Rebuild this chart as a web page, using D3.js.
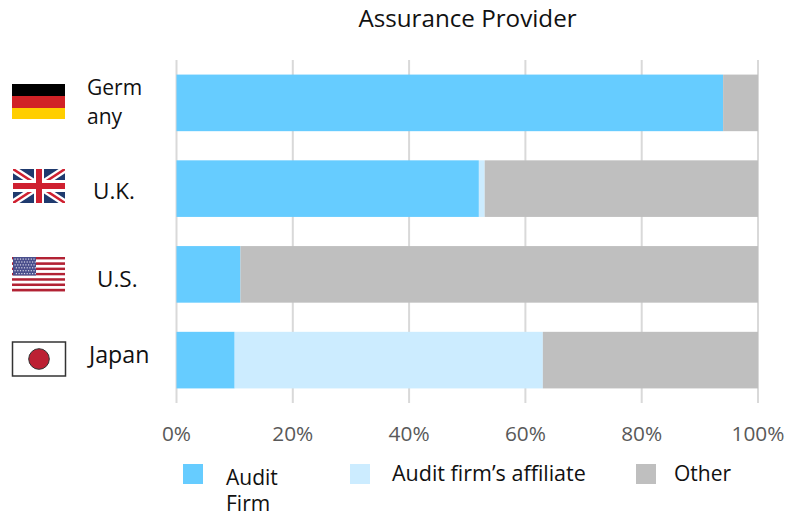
<!DOCTYPE html>
<html><head><meta charset="utf-8">
<script src="https://cdnjs.cloudflare.com/ajax/libs/d3/7.8.5/d3.min.js"></script>
<style>html,body{margin:0;padding:0;background:#fff}svg{display:block}text{font-family:"Open Sans",Lato,sans-serif}</style>
</head><body><svg id="c" width="787" height="516"></svg>
<script>
const categories=["Germany","U.K.","U.S.","Japan"];
const seriesNames=["Audit Firm","Audit firm’s affiliate","Other"];
const auditFirm=[94,52,11,10];
const affiliate=[0,1,0,53];
const other=[6,47,89,37];
const tickValues=[0,20,40,60,80,100];
const colors=["#66CCFF","#CCECFF","#BFBFBF"];
const svg=d3.select("#c");
const x=d3.scaleLinear().domain([0,100]).range([176.5,758]);
const y=d3.scaleBand().domain(categories).range([60,403]).paddingInner(0.34).paddingOuter(0.17);
svg.append("g").selectAll("line").data(tickValues).join("line")
 .attr("x1",d=>x(d)).attr("x2",d=>x(d)).attr("y1",60).attr("y2",403)
 .attr("stroke","#D9D9D9").attr("stroke-width",2);
const rows=categories.map((c,i)=>({c,a:auditFirm[i],b:affiliate[i],o:other[i]}));
const stack=d3.stack().keys(["a","b","o"])(rows);
svg.append("g").selectAll("g").data(stack).join("g").attr("fill",(d,i)=>colors[i])
 .selectAll("rect").data(d=>d).join("rect")
 .attr("x",d=>x(d[0])).attr("width",d=>x(d[1])-x(d[0]))
 .attr("y",d=>y(d.data.c)).attr("height",y.bandwidth());
svg.append("g").selectAll("text").data(tickValues).join("text")
 .attr("x",d=>x(d)).attr("y",441).attr("text-anchor","middle")
 .attr("font-size",20.8).attr("fill","#595959").text(d=>d+"%");
svg.append("text").attr("x",467.5).attr("y",27).attr("text-anchor","middle").attr("font-size",24.2).attr("fill","#111").text("Assurance Provider");
const lab=(t,xx,yy,fs)=>svg.append("text").attr("x",xx).attr("y",yy).attr("font-size",fs).attr("fill","#111").text(t);
lab("Germ",87,95,21);lab("any",87,124,21);
lab(categories[1],93,199,22.5);lab(categories[2],97,287,22.5);lab(categories[3],89,363,23.2);
const de=svg.append("g");
["#000000","#D12226","#FFCE00"].forEach((c,i)=>de.append("rect").attr("x",12).attr("y",84+i*12).attr("width",53).attr("height",i==2?11:12).attr("fill",c));
const uk=svg.append("g");
uk.append("rect").attr("x",13).attr("y",169).attr("width",52).attr("height",34).attr("fill","#1F3A6E");
const cp=svg.append("clipPath").attr("id","ukc");cp.append("rect").attr("x",13).attr("y",169).attr("width",52).attr("height",34);
const ug=uk.append("g").attr("clip-path","url(#ukc)");
[["#fff",7],["#CF2030",2.5]].forEach(([c,w])=>{
 ug.append("line").attr("x1",13).attr("y1",169).attr("x2",65).attr("y2",203).attr("stroke",c).attr("stroke-width",w);
 ug.append("line").attr("x1",13).attr("y1",203).attr("x2",65).attr("y2",169).attr("stroke",c).attr("stroke-width",w);
});
ug.append("rect").attr("x",13).attr("y",180).attr("width",52).attr("height",12).attr("fill","#fff");
ug.append("rect").attr("x",34).attr("y",169).attr("width",10).attr("height",34).attr("fill","#fff");
ug.append("rect").attr("x",13).attr("y",183).attr("width",52).attr("height",6).attr("fill","#CF2030");
ug.append("rect").attr("x",36).attr("y",169).attr("width",6).attr("height",34).attr("fill","#CF2030");
const us=svg.append("g");
d3.range(13).forEach(i=>us.append("rect").attr("x",12).attr("y",257+i*2.65).attr("width",53).attr("height",2.65).attr("fill",i%2?"#fff":"#B22234"));
us.append("rect").attr("x",13).attr("y",257).attr("width",23).attr("height",18.5).attr("fill","#4A4F8C");
const st=us.append("g").attr("fill","#D8D8E8");
d3.range(6).forEach(r=>d3.range(8).forEach(k=>st.append("rect").attr("x",14.5+k*2.7+(r%2)*1.3).attr("y",258.5+r*2.9).attr("width",1.2).attr("height",1.2)));
svg.append("rect").attr("x",12.5).attr("y",342).attr("width",53).attr("height",34).attr("fill","#fff").attr("stroke","#333").attr("stroke-width",1.5);
svg.append("circle").attr("cx",39).attr("cy",359).attr("r",10.3).attr("fill","#BC2033").attr("stroke","#333").attr("stroke-width",1);
const lx=[183,350,636];
svg.append("g").selectAll("rect").data(colors).join("rect").attr("x",(d,i)=>lx[i]).attr("y",464).attr("width",20).attr("height",20).attr("fill",d=>d);
const leg=(t,xx,yy,fs)=>svg.append("text").attr("x",xx).attr("y",yy).attr("font-size",fs).attr("fill","#111").text(t);
leg("Audit",226,485,21);leg("Firm",226,511,21);
leg(seriesNames[1],392,481,21.5);leg(seriesNames[2],674,481,21);
</script></body></html>
